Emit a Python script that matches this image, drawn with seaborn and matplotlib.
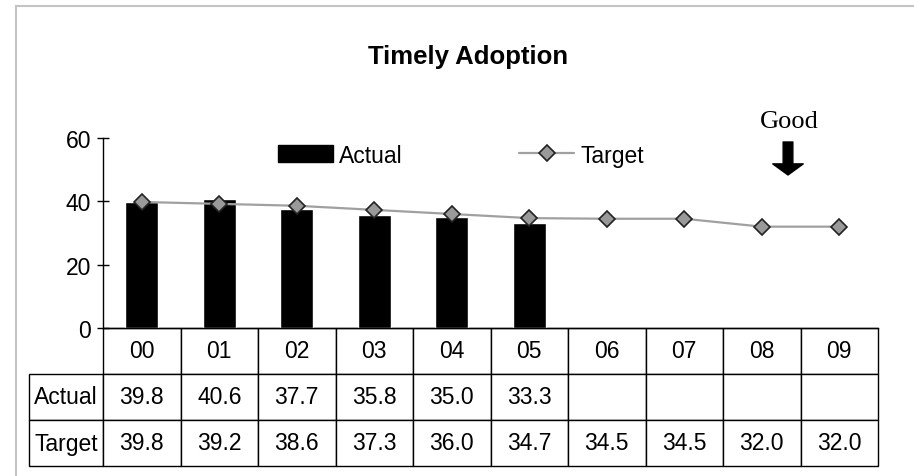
import numpy as np
import pandas as pd
import seaborn as sns
import matplotlib
matplotlib.use('Agg')
import matplotlib.pyplot as plt
from matplotlib.patches import Patch, Rectangle
from matplotlib.lines import Line2D

# data
years = ['00', '01', '02', '03', '04', '05', '06', '07', '08', '09']
actual = [39.8, 40.6, 37.7, 35.8, 35.0, 33.3, np.nan, np.nan, np.nan, np.nan]
target = [39.8, 39.2, 38.6, 37.3, 36.0, 34.7, 34.5, 34.5, 32.0, 32.0]
row_names = ['Actual', 'Target']
yticks = [0, 20, 40, 60]

df = pd.DataFrame({'year': years, 'Actual': actual, 'Target': target})

sns.set_style('white')
plt.rcParams['font.family'] = ['Liberation Sans', 'DejaVu Sans']
plt.rcParams['text.color'] = 'black'
plt.rcParams['ytick.color'] = 'black'
plt.rcParams['xtick.color'] = 'black'

gray = '#a0a0a0'
fs = 16.5

fig = plt.figure(figsize=(9.14, 4.77), dpi=100)
ax = fig.add_axes([103/914, 1-329/477, 775/914, 190/477])

# bars for actual
sns.barplot(data=df, x='year', y='Actual', order=years, color='black',
            width=0.43, errorbar=None, saturation=1, ax=ax)
# target line with diamonds
sns.pointplot(data=df, x='year', y='Target', order=years, color=gray,
              markers='D', markersize=8, markeredgecolor='#222222',
              markerfacecolor='#999999', markeredgewidth=1.2, linewidth=1.6,
              errorbar=None, ax=ax)

ax.set_ylim(0, 60)
ax.set_xlim(-0.5, 9.5)
ax.set_yticks(yticks)
ax.tick_params(axis='y', direction='inout', length=9, width=1, pad=4,
               labelsize=fs, left=True)
ax.tick_params(axis='x', bottom=False, labelbottom=False)
ax.set_xlabel('')
ax.set_ylabel('')
for s in ['top', 'right']:
    ax.spines[s].set_visible(False)
for s in ['left', 'bottom']:
    ax.spines[s].set_color('black')
    ax.spines[s].set_linewidth(1)

# data table under the chart
cell_text = [['' if np.isnan(v) else f'{v:.1f}' for v in actual],
             [f'{v:.1f}' for v in target]]
tbl = ax.table(cellText=cell_text, colLabels=years, colWidths=[0.1]*10,
               cellLoc='center', colLoc='center',
               bbox=[0, -138/190, 1, 138/190])
h = tbl[(1, 0)].get_height()
for i, name in enumerate(row_names):
    tbl.add_cell(i + 1, -1, width=0.0955, height=h, text=name, loc='center')
tbl.auto_set_font_size(False)
tbl.set_fontsize(fs)
for cell in tbl.get_celld().values():
    cell.set_linewidth(1)
    cell.set_edgecolor('black')
    cell.get_text().set_color('black')

# legend
handles = [Patch(facecolor='black', edgecolor='black', label='Actual'),
           Line2D([], [], color=gray, lw=1.6, marker='D', markersize=8,
                  markerfacecolor='#999999', markeredgecolor='#222222',
                  markeredgewidth=1.2, label='Target')]
ax.legend(handles=handles, ncol=2, frameon=False, loc='center',
          bbox_to_anchor=(0.462, 0.91), fontsize=fs, handlelength=2.4,
          handleheight=0.75, handletextpad=0.26, columnspacing=5.1)

fig.text(468/914, 1-57/477, 'Timely Adoption', ha='center', va='center',
         fontsize=18.5, fontweight='bold')

# "Good" marker
fig.text(789/914, 1-122/477, 'Good', ha='center', va='center',
         fontsize=19, family='Liberation Serif')
ax.annotate('', xy=(788, 477-176), xytext=(788, 477-143),
            xycoords='figure pixels', textcoords='figure pixels',
            arrowprops=dict(facecolor='black', edgecolor='black', width=7,
                            headwidth=22, headlength=8, shrink=0))

# light frame around the chart area
fig.add_artist(Rectangle((16/914, -0.1), 1.2, 1.1 - 7/477, transform=fig.transFigure,
                         fill=False, edgecolor='#c4c4c4', lw=1.5))

fig.savefig('out.png', dpi=100)
